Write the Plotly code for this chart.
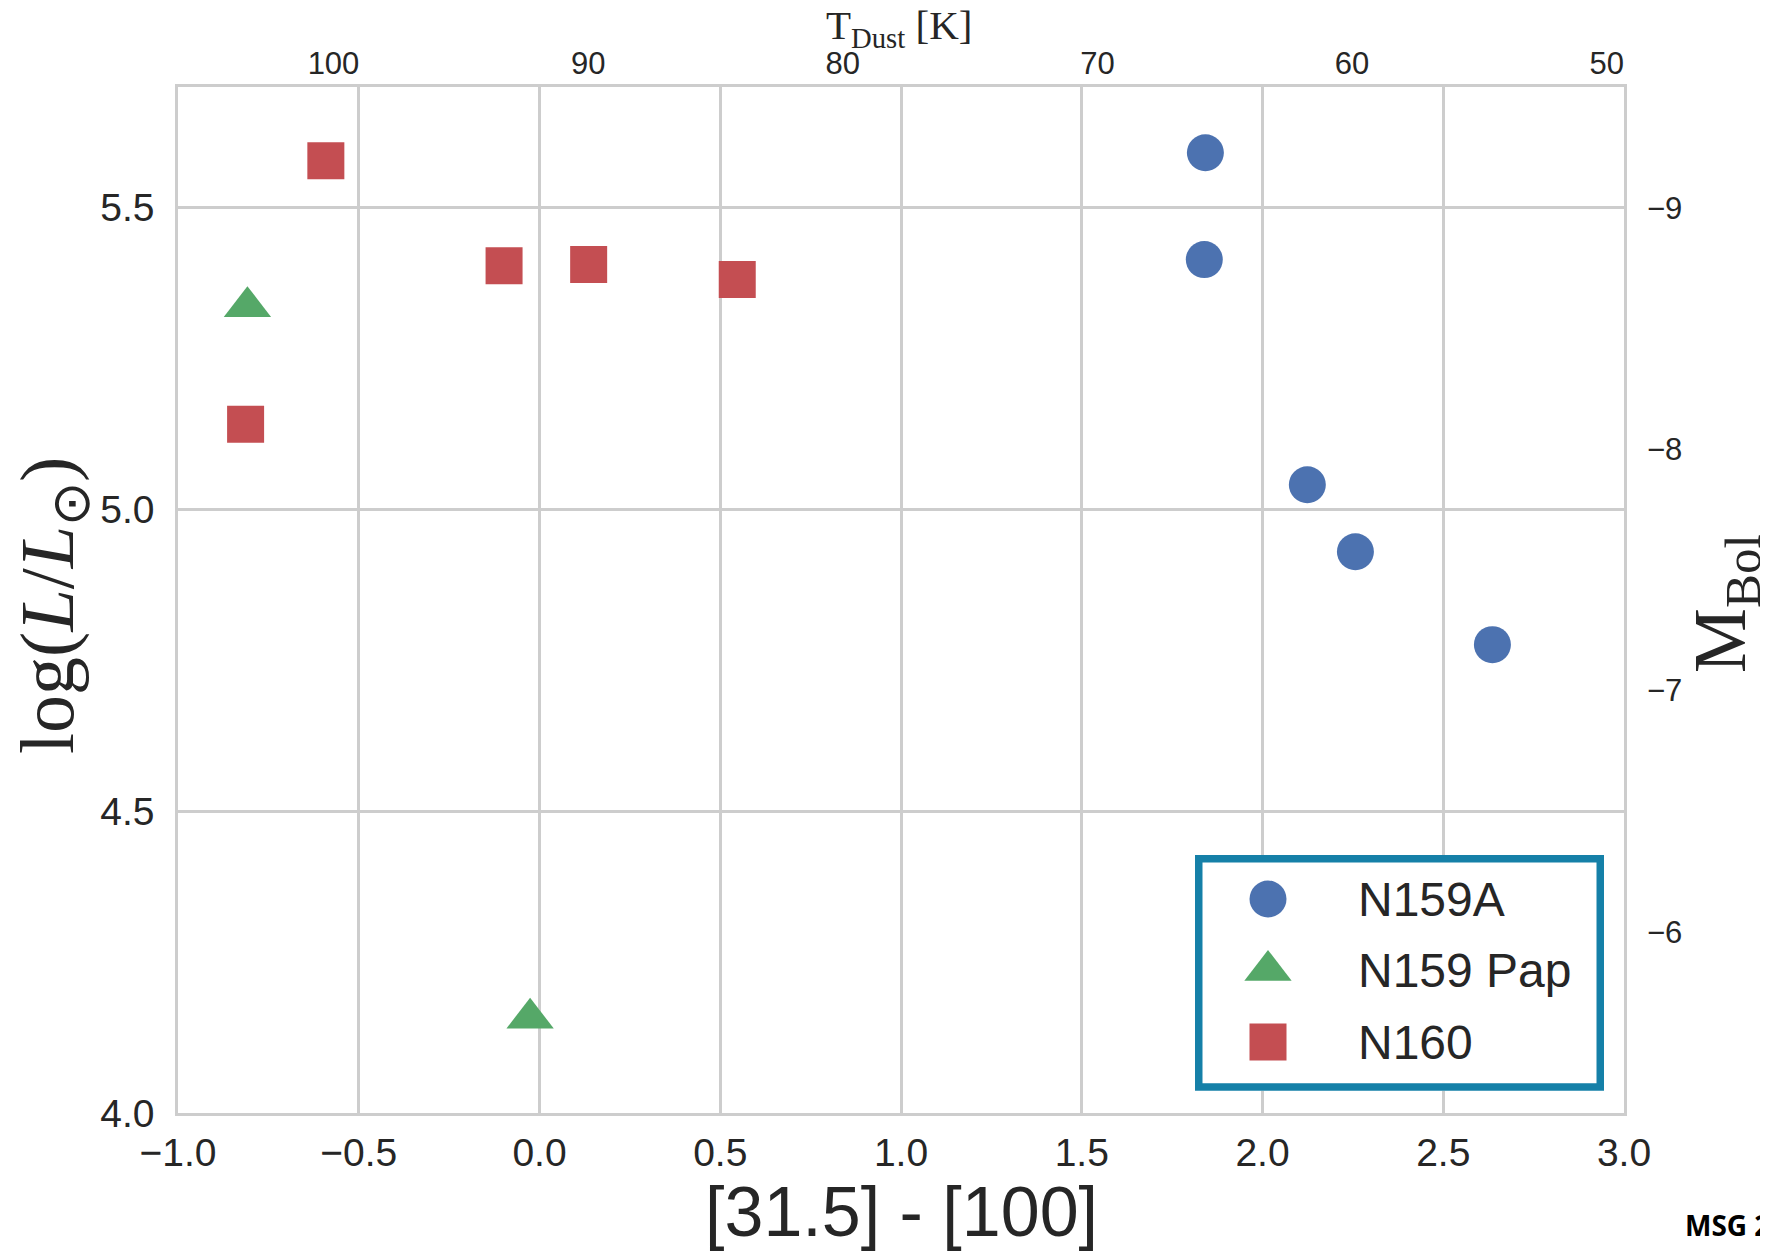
import plotly.graph_objects as go

# ---------------- data ----------------
n159a_color = [1.842, 1.839, 2.124, 2.257, 2.636]
n159a_logL = [5.591, 5.414, 5.041, 4.930, 4.776]

pap_color = [-0.808, -0.026]
pap_logL = [5.336, 4.157]

n160_color = [-0.591, -0.098, 0.136, 0.547, -0.813]
n160_logL = [5.578, 5.404, 5.406, 5.381, 5.141]

series_names = ["N159A", "N159 Pap", "N160"]
series_colors = ["#4C72B0", "#55A868", "#C44E52"]
series_symbols = ["circle", "triangle-up", "square"]

x_ticks = [-1.0, -0.5, 0.0, 0.5, 1.0, 1.5, 2.0, 2.5, 3.0]
y_ticks = [4.0, 4.5, 5.0, 5.5]
tdust_ticks = [100, 90, 80, 70, 60, 50]
mbol_ticks = [-9, -8, -7, -6]

# axis relations
X_RANGE = [-1.0, 3.0]
Y_RANGE = [4.0, 5.7]
M_SUN = 4.75                      # M_Bol = M_SUN - 2.5 log(L/Lsun)
T0, T_SLOPE = 91.91, -14.196      # T_dust axis linear in colour
T_RANGE = [T0 + T_SLOPE * X_RANGE[0], T0 + T_SLOPE * X_RANGE[1]]
M_RANGE = [M_SUN - 2.5 * Y_RANGE[0], M_SUN - 2.5 * Y_RANGE[1]]

OFF = 8                           # page body margin
W, H = 1768 - OFF, 1254 - OFF
ML, MR, MT, MB = 170, 144, 79, 141
PW, PH = W - ML - MR, H - MT - MB

def px_x(p):   # page px -> paper x
    return (p - OFF - ML) / PW

def px_y(p):   # page px -> paper y
    return (H - MB - (p - OFF)) / PH

TXT = "#262626"
GRID = "#cdcdcd"
SANS = "Liberation Sans, Arial, sans-serif"
SERIF = "Liberation Serif, Times New Roman, serif"

fig = go.Figure()

data = [(n159a_color, n159a_logL), (pap_color, pap_logL), (n160_color, n160_logL)]
sizes = [37, 41, 37]
for (xs, ys), name, col, sym, sz in zip(data, series_names, series_colors, series_symbols, sizes):
    fig.add_trace(go.Scatter(x=xs, y=ys, mode="markers", name=name,
                             marker=dict(color=col, symbol=sym, size=sz, line=dict(width=0)),
                             showlegend=False))

# invisible trace to activate secondary axes
fig.add_trace(go.Scatter(x=T_RANGE, y=M_RANGE, xaxis="x2", yaxis="y2", mode="markers",
                         marker=dict(opacity=0), hoverinfo="skip", showlegend=False))

# ---------------- custom legend (own small subplot) ----------------
LEG_X0, LEG_X1 = 1195, 1604      # outer box, page px
LEG_Y0, LEG_Y1 = 855, 1090.7
ROW_STEP = 71.5
FIRST_ROW = 899
MARK_X = 1268
unit_x = MARK_X - LEG_X0
x3_range = [-1.0, (LEG_X1 - LEG_X0) / unit_x - 1.0]
units_y = (LEG_Y1 - LEG_Y0) / ROW_STEP
top_off = (FIRST_ROW - LEG_Y0) / ROW_STEP
y3_range = [units_y - top_off, -top_off]

for name, col, sym, sz in zip(series_names, series_colors, series_symbols, sizes):
    fig.add_trace(go.Scatter(x=[0], y=[name], xaxis="x3", yaxis="y3", mode="markers",
                             marker=dict(color=col, symbol=sym, size=sz, line=dict(width=0)),
                             hoverinfo="skip", showlegend=False))

fig.add_shape(type="rect", xref="x3", yref="y3",
              x0=x3_range[0], x1=x3_range[1], y0=y3_range[0], y1=y3_range[1],
              fillcolor="white", line=dict(color="#1580A8", width=15), layer="below")

axis_common = dict(showgrid=True, gridcolor=GRID, gridwidth=2.5, zeroline=False,
                   showline=True, linecolor=GRID, linewidth=2.5, mirror=True, ticks="")

fig.update_layout(
    width=W, height=H,
    margin=dict(l=ML, r=MR, t=MT, b=MB),
    paper_bgcolor="white", plot_bgcolor="white",
    showlegend=False,
    xaxis=dict(range=X_RANGE, tickvals=x_ticks, tickformat=".1f",
               tickfont=dict(family=SANS, size=39, color=TXT), ticklabelstandoff=3,
               **axis_common),
    yaxis=dict(range=Y_RANGE, tickvals=y_ticks, tickformat=".1f",
               tickfont=dict(family=SANS, size=39, color=TXT), ticklabelstandoff=13,
               **axis_common),
    xaxis2=dict(range=T_RANGE, overlaying="x", side="top", anchor="y",
                tickvals=tdust_ticks, showgrid=False, zeroline=False, showline=False,
                ticks="", tickfont=dict(family=SANS, size=31, color=TXT), ticklabelstandoff=6),
    yaxis2=dict(range=M_RANGE, overlaying="y", side="right", anchor="x",
                tickvals=mbol_ticks, showgrid=False, zeroline=False, showline=False,
                ticks="", tickfont=dict(family=SANS, size=31, color=TXT), ticklabelstandoff=22),
    xaxis3=dict(domain=[px_x(LEG_X0), px_x(LEG_X1)], range=x3_range, anchor="y3",
                visible=False, fixedrange=True),
    yaxis3=dict(domain=[px_y(LEG_Y1), px_y(LEG_Y0)], range=y3_range, type="category",
                categoryarray=series_names, anchor="free", position=px_x(1357), side="right",
                showgrid=False, zeroline=False, showline=False, ticks="",
                tickfont=dict(family=SANS, size=48, color=TXT), ticklabelstandoff=0,
                fixedrange=True),
)

annotations = [
    dict(text="[31.5] - [100]", x=px_x(901), y=px_y(1212), xref="paper", yref="paper",
         xanchor="center", yanchor="middle", showarrow=False,
         font=dict(family=SANS, size=70, color=TXT)),
    dict(text="log(<i>L</i>/<i>L</i><sub>⊙</sub>)", x=px_x(53), y=px_y(606), xref="paper",
         yref="paper", xanchor="center", yanchor="middle", textangle=-90, showarrow=False,
         font=dict(family=SERIF, size=76, color=TXT)),
    dict(text="M<sub>Bol</sub>", x=px_x(1725), y=px_y(604), xref="paper", yref="paper",
         xanchor="center", yanchor="middle", textangle=-90, showarrow=False,
         font=dict(family=SERIF, size=73, color=TXT)),
    dict(text="T<sub>Dust</sub> [K]", x=px_x(899), y=px_y(28), xref="paper", yref="paper",
         xanchor="center", yanchor="middle", showarrow=False,
         font=dict(family=SERIF, size=41, color=TXT)),
    dict(text="<b>MSG 2</b>", x=px_x(1683), y=px_y(1225), xref="paper", yref="paper",
         xanchor="left", yanchor="middle", showarrow=False,
         font=dict(family="Open Sans, Noto Sans, sans-serif", size=28, color="black")),
]
fig.update_layout(annotations=annotations)

fig.write_html("out.html")
